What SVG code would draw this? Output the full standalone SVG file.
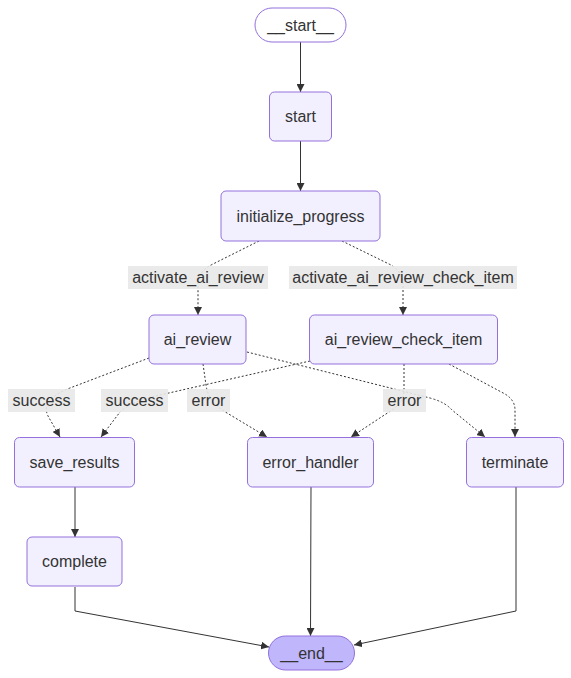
<svg xmlns="http://www.w3.org/2000/svg" width="571" height="678" viewBox="0 0 571 678">
<defs>
<style>
.node rect{fill:#f2f0ff;stroke:#9370db;stroke-width:1}
.node.first rect{fill:#ffffff}
.node.last rect{fill:#bfb6fc}
text{font-family:"Liberation Sans",Arial,sans-serif;font-size:16px;fill:#333333;text-anchor:middle}
.edge{fill:none;stroke:#333333;stroke-width:1}
.dot{stroke-dasharray:2 2}
.lbl rect{fill:#e8e8e8;fill-opacity:0.9}
</style>
<marker id="arr" viewBox="0 0 10 10" refX="10" refY="5" markerWidth="8" markerHeight="8" markerUnits="userSpaceOnUse" orient="auto">
<path d="M0,0 L10,5 L0,10 z" fill="#333333"/>
</marker>
</defs>
<rect width="571" height="678" fill="#ffffff"/>
<g id="edges">
<path class="edge" d="M300.5,42 L300.5,92" marker-end="url(#arr)"/>
<path class="edge" d="M300.5,141 L300.5,191" marker-end="url(#arr)"/>
<path class="edge dot" d="M259,241 L213,264 Q198,271 198,285 L198,315" marker-end="url(#arr)"/>
<path class="edge dot" d="M342,241 L389,264 Q403,271 403,285 L403,315" marker-end="url(#arr)"/>
<path class="edge dot" d="M149,358 L70,388 Q40,400 48,416 L60,437" marker-end="url(#arr)"/>
<path class="edge dot" d="M310,361 L160,395 Q130,402 120,412 L101,437" marker-end="url(#arr)"/>
<path class="edge dot" d="M203,364 L206,385 Q208,400 222,410 L267,437" marker-end="url(#arr)"/>
<path class="edge dot" d="M404,364 L404,390 Q404,402 392,410 L351,437" marker-end="url(#arr)"/>
<path class="edge dot" d="M247,352 L430,398 Q445,402 452,410 L485,437" marker-end="url(#arr)"/>
<path class="edge dot" d="M449,364 L505,394 Q515,400 515,410 L515,437" marker-end="url(#arr)"/>
<path class="edge" d="M75,487 L75,537" marker-end="url(#arr)"/>
<path class="edge" d="M75,587 L75,611 L269,647" marker-end="url(#arr)"/>
<path class="edge" d="M311,487 L310.5,636" marker-end="url(#arr)"/>
<path class="edge" d="M516,487 L516,611 L354,645" marker-end="url(#arr)"/>
</g>
<g id="edge-labels">
<g class="lbl"><rect x="128" y="266" width="140" height="23"/><text x="198" y="283">activate_ai_review</text></g>
<g class="lbl"><rect x="289" y="266" width="228" height="23"/><text x="403" y="283">activate_ai_review_check_item</text></g>
<g class="lbl"><rect x="8" y="389" width="67" height="23"/><text x="41.5" y="406">success</text></g>
<g class="lbl"><rect x="101" y="389" width="67" height="23"/><text x="134.5" y="406">success</text></g>
<g class="lbl"><rect x="187" y="389" width="43" height="23"/><text x="208.5" y="406">error</text></g>
<g class="lbl"><rect x="383" y="389" width="43" height="23"/><text x="404.5" y="406">error</text></g>
</g>
<g id="node-start" class="node first"><rect x="255" y="8" width="91" height="34" rx="17"/><text x="300.5" y="30.5">__start__</text></g>
<g id="node-start2" class="node"><rect x="269.5" y="92" width="62" height="49" rx="5"/><text x="300.5" y="122">start</text></g>
<g id="node-initialize_progress" class="node"><rect x="221" y="191" width="159" height="50" rx="5"/><text x="300.5" y="221.5">initialize_progress</text></g>
<g id="node-ai_review" class="node"><rect x="149" y="315" width="97" height="49" rx="5"/><text x="197.5" y="345">ai_review</text></g>
<g id="node-ai_review_check_item" class="node"><rect x="309.5" y="315" width="188" height="49" rx="5"/><text x="403.5" y="345">ai_review_check_item</text></g>
<g id="node-save_results" class="node"><rect x="14.5" y="437.5" width="120" height="49.5" rx="5"/><text x="74.5" y="467.5">save_results</text></g>
<g id="node-error_handler" class="node"><rect x="247.5" y="437.5" width="126" height="49.5" rx="5"/><text x="310.5" y="467.5">error_handler</text></g>
<g id="node-terminate" class="node"><rect x="466.5" y="437.5" width="97" height="49.5" rx="5"/><text x="515" y="467.5">terminate</text></g>
<g id="node-complete" class="node"><rect x="27" y="537" width="95" height="49" rx="5"/><text x="74.5" y="567">complete</text></g>
<g id="node-end" class="node last"><rect x="268.5" y="636" width="86" height="34" rx="17"/><text x="311.5" y="658.5">__end__</text></g>
</svg>
